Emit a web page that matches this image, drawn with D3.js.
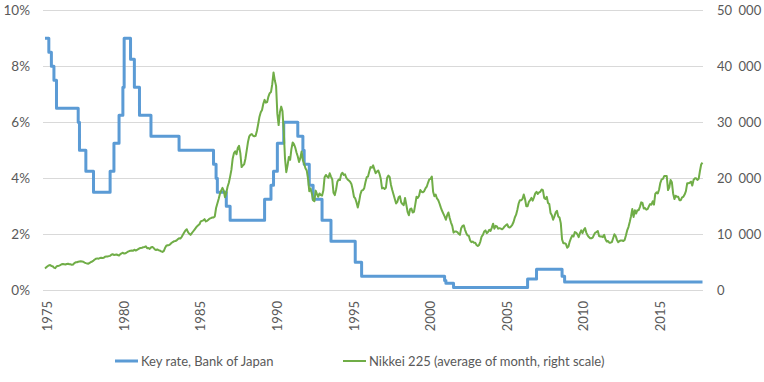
<!DOCTYPE html>
<html>
<head>
<meta charset="utf-8">
<script src="https://cdn.jsdelivr.net/npm/d3@7"></script>
<style>
  html, body { margin: 0; padding: 0; background: #fff; }
  svg { display: block; }
  text { font-family: Lato, "Open Sans", "Liberation Sans", sans-serif; fill: #595959; }
</style>
</head>
<body>
<svg id="chart" width="764" height="382"></svg>
<script>
// ---------------- DATA ----------------
const startYear = 1975;
const endYear = 2017;

// Month categories (Jan 1975 .. Dec 2017)
const categories = [];
for (let y = startYear; y <= endYear; y++) {
  for (let m = 1; m <= 12; m++) categories.push(y + "-" + String(m).padStart(2, "0"));
}

// X-axis tick labels
const xTickLabels = ["1975", "1980", "1985", "1990", "1995", "2000", "2005", "2010", "2015"];

// Left axis ticks (%) and right axis ticks (index points)
const leftTicks = [0, 2, 4, 6, 8, 10];
const rightTicks = [0, 10000, 20000, 30000, 40000, 50000];

// Key rate, Bank of Japan: month of each change and the new rate (%)
const rateChangeMonths = [
  "1975-01", "1975-04", "1975-06", "1975-08", "1975-10",
  "1977-03", "1977-04", "1977-09", "1978-03",
  "1979-04", "1979-07", "1979-11", "1980-02", "1980-03", "1980-08", "1980-11",
  "1981-03", "1981-12", "1983-10",
  "1986-01", "1986-03", "1986-04", "1986-11", "1987-02",
  "1989-05", "1989-10", "1989-12", "1990-03", "1990-08",
  "1991-07", "1991-11", "1991-12", "1992-04", "1992-07",
  "1993-02", "1993-09", "1995-04", "1995-09",
  "2001-02", "2001-03", "2001-09", "2006-07", "2007-02",
  "2008-10", "2008-12", "2017-12"
];
const rateValues = [
  9.0, 8.5, 8.0, 7.5, 6.5,
  6.0, 5.0, 4.25, 3.5,
  4.25, 5.25, 6.25, 7.25, 9.0, 8.25, 7.25,
  6.25, 5.5, 5.0,
  4.5, 4.0, 3.5, 3.0, 2.5,
  3.25, 3.75, 4.25, 5.25, 6.0,
  5.5, 5.0, 4.5, 3.75, 3.25,
  2.5, 1.75, 1.0, 0.5,
  0.35, 0.25, 0.1, 0.4, 0.75,
  0.5, 0.3, 0.3
];

// Nikkei 225, average of month (one row per year, Jan..Dec)
const nikkei = [
  3900, 4100, 4300, 4450, 4500, 4350, 4300, 4050, 3950, 4250, 4350, 4400,          // 1975
  4500, 4650, 4700, 4650, 4600, 4700, 4750, 4650, 4650, 4550, 4600, 4850,          // 1976
  5000, 5000, 5100, 5150, 5200, 5150, 5100, 4950, 4850, 4800, 4750, 4900,          // 1977
  5050, 5150, 5300, 5500, 5650, 5700, 5650, 5750, 5800, 5750, 5800, 6000,          // 1978
  6050, 6050, 6100, 6150, 6350, 6450, 6300, 6350, 6400, 6300, 6200, 6450,          // 1979
  6600, 6700, 6550, 6600, 6750, 6900, 7000, 7050, 7100, 7050, 7250, 7100,          // 1980
  7200, 7350, 7500, 7550, 7600, 7700, 7750, 7850, 7500, 7550, 7400, 7650,          // 1981
  7750, 7600, 7300, 7200, 7300, 7150, 7100, 6950, 6850, 7000, 7550, 7950,          // 1982
  8050, 8050, 8200, 8450, 8600, 8750, 8800, 8900, 9100, 9300, 9250, 9500,          // 1983
  9900, 10300, 10700, 10900, 10400, 10100, 9900, 10200, 10500, 10800, 11100, 11400, // 1984
  11600, 11800, 12300, 12400, 12500, 12700, 12300, 12400, 12600, 12800, 12900, 13000, // 1985
  13000, 13200, 14700, 15500, 16300, 17200, 17800, 18300, 17800, 16600, 17400, 18500, // 1986
  19200, 20300, 21500, 23500, 24500, 24800, 24300, 25400, 25800, 24500, 22000, 22300, // 1987
  22500, 23500, 25000, 26500, 27500, 27800, 27900, 27600, 27500, 27600, 28500, 29700, // 1988
  31000, 31800, 32200, 33300, 34000, 33500, 33600, 34600, 35200, 35400, 36800, 38900, // 1989
  37500, 36500, 31500, 29500, 31800, 32800, 32000, 28500, 23500, 21100, 22300, 23800, // 1990
  23300, 25200, 26400, 26100, 25500, 24600, 23900, 22900, 23600, 24800, 23200, 22600, // 1991
  21800, 21400, 20000, 17700, 18200, 17300, 16100, 15900, 17800, 17200, 16700, 17300, // 1992
  17000, 16900, 17800, 20200, 20600, 20300, 20100, 20900, 20300, 19800, 17400, 17000, // 1993
  18000, 19400, 19800, 19700, 20700, 21000, 20600, 20700, 20100, 19800, 19600, 19400, // 1994
  19000, 18000, 16700, 16400, 15700, 14800, 15800, 17100, 17800, 17900, 18200, 19300, // 1995
  20200, 20300, 21200, 22000, 21900, 22300, 21600, 20900, 21200, 21400, 20800, 19900, // 1996
  18200, 18300, 18100, 18300, 20100, 20500, 20200, 18800, 17900, 17100, 16300, 15500, // 1997
  15800, 16600, 16800, 15700, 15400, 15200, 16500, 15300, 14000, 13400, 14500, 14600, // 1998
  13900, 14000, 15300, 16700, 16500, 16900, 17900, 17600, 17500, 17700, 18200, 18500, // 1999
  19200, 19800, 19900, 20300, 17600, 16800, 17100, 16400, 16100, 15500, 14800, 14200, // 2000
  13700, 13200, 12600, 13400, 13900, 12900, 12100, 11500, 10300, 10500, 10500, 10400, // 2001
  10100, 9900, 11100, 11500, 11600, 10800, 10200, 9800, 9700, 8900, 8600, 8700,       // 2002
  8500, 8500, 8100, 7900, 8100, 8700, 9600, 9900, 10500, 10700, 10200, 10400,         // 2003
  10800, 10600, 11200, 11900, 11000, 11500, 11400, 11000, 11100, 11000, 10900, 11100, // 2004
  11400, 11600, 11800, 11300, 11200, 11400, 11700, 12200, 13000, 13500, 14400, 15500, // 2005
  16100, 16100, 16300, 17100, 16300, 15000, 15000, 15800, 16100, 16500, 16000, 16600, // 2006
  17300, 17600, 17200, 17500, 17600, 18000, 17900, 16500, 16300, 16700, 15600, 15400, // 2007
  13800, 13400, 12600, 13200, 13900, 14200, 13200, 13000, 12000, 9100, 8400, 8400,    // 2008
  8300, 7600, 7800, 8700, 9300, 9800, 9600, 10400, 10300, 10000, 9500, 10200,          // 2009
  10700, 10200, 10800, 11100, 10300, 9800, 9500, 9300, 9300, 9400, 9900, 10300,        // 2010
  10400, 10600, 9700, 9600, 9600, 9500, 9900, 9100, 8700, 8800, 8500, 8500,            // 2011
  8600, 9300, 10000, 9700, 9000, 8600, 8800, 8900, 8900, 8800, 9000, 9800,             // 2012
  10700, 11300, 12200, 13200, 14500, 13100, 14300, 13700, 14300, 14300, 14900, 15700,  // 2013
  15600, 14600, 14700, 14400, 14500, 15000, 15400, 15300, 15900, 15300, 17200, 17500,  // 2014
  17300, 18000, 19200, 19800, 19900, 20400, 20400, 20400, 17900, 18400, 19700, 19300,  // 2015
  17300, 16300, 16900, 16700, 16700, 16100, 16100, 16600, 16700, 17100, 17700, 19100,  // 2016
  19100, 19200, 19400, 18700, 19700, 20000, 20000, 19700, 19900, 21300, 22500, 22800   // 2017
];

const seriesNames = ["Key rate, Bank of Japan", "Nikkei 225 (average of month, right scale)"];
const seriesColors = ["#5B9BD5", "#70AD47"];

// ---------------- CHART ----------------
const svg = d3.select("#chart");
const plot = { left: 43, right: 703, top: 10.3, bottom: 290.3 };

const x = d3.scaleLinear().domain([0, categories.length - 1]).range([45, 702.5]);
const yL = d3.scaleLinear().domain([0, 10]).range([plot.bottom, plot.top]);
const yR = d3.scaleLinear().domain([0, 50000]).range([plot.bottom, plot.top]);

// Gridlines
svg.append("g").selectAll("line").data(leftTicks).join("line")
  .attr("x1", plot.left).attr("x2", plot.right)
  .attr("y1", d => Math.round(yL(d)) + 0.5).attr("y2", d => Math.round(yL(d)) + 0.5)
  .attr("stroke", "#D9D9D9").attr("stroke-width", 1);

// Left axis
const leftAxis = d3.axisLeft(yL).tickValues(leftTicks).tickFormat(d => d + "%").tickSize(0).tickPadding(0);
const gL = svg.append("g").attr("transform", "translate(30,0)").call(leftAxis);
gL.select(".domain").remove();
gL.selectAll("text").attr("font-size", 13.5).style("font-family", null).attr("fill", "#595959");

// Right axis
const fmt = d => d3.format(",")(d).replace(/,/g, "\u2002");
const rightAxis = d3.axisRight(yR).tickValues(rightTicks).tickFormat(fmt).tickSize(0).tickPadding(0);
const gR = svg.append("g").attr("transform", "translate(717,0)").call(rightAxis);
gR.select(".domain").remove();
gR.selectAll("text").attr("font-size", 13).style("font-family", null).attr("fill", "#595959");

// Bottom axis (rotated labels)
const idxOf = c => categories.indexOf(c);
const tickIdx = xTickLabels.map(t => idxOf(t + "-01"));
const bottomAxis = d3.axisBottom(x).tickValues(tickIdx)
  .tickFormat((d, i) => xTickLabels[i]).tickSize(0).tickPadding(0);
const gB = svg.append("g").attr("transform", "translate(0," + 301 + ")").call(bottomAxis);
gB.select(".domain").remove();
gB.selectAll("text")
  .attr("font-size", 13).style("font-family", null).attr("fill", "#595959")
  .attr("transform", "rotate(-90)")
  .attr("x", 0).attr("y", 0).attr("dy", "0.4em").attr("dx", 0)
  .attr("text-anchor", "end")
  .each(function() {
    const t = d3.select(this.parentNode).attr("transform");
    const tx = +t.match(/translate\(([-\d.]+)/)[1];
    d3.select(this.parentNode).attr("transform", "translate(" + (tx + 1.5) + ",0)");
  });

// Key rate (step)
const rateData = rateChangeMonths.map((m, i) => ({ i: idxOf(m), v: rateValues[i] }));
svg.append("path").datum(rateData)
  .attr("fill", "none").attr("stroke", seriesColors[0]).attr("stroke-width", 3)
  .attr("stroke-linejoin", "round")
  .attr("d", d3.line().x(d => x(d.i)).y(d => yL(d.v)).curve(d3.curveStepAfter));

// Nikkei
svg.append("path").datum(nikkei)
  .attr("fill", "none").attr("stroke", seriesColors[1]).attr("stroke-width", 2)
  .attr("stroke-linejoin", "round")
  .attr("d", d3.line().x((d, i) => x(i)).y(d => yR(d)));

// Legend
const legend = svg.append("g");
const legendItems = [
  { x: 115, w: 23, sw: 3, tx: 141 },
  { x: 343, w: 23, sw: 2, tx: 369 }
];
legendItems.forEach((it, i) => {
  legend.append("line").attr("x1", it.x).attr("x2", it.x + it.w)
    .attr("y1", 361).attr("y2", 361)
    .attr("stroke", seriesColors[i]).attr("stroke-width", it.sw);
  legend.append("text").attr("x", it.tx).attr("y", 361).attr("dy", "0.35em")
    .attr("font-size", 13).text(seriesNames[i]);
});
</script>
</body>
</html>
